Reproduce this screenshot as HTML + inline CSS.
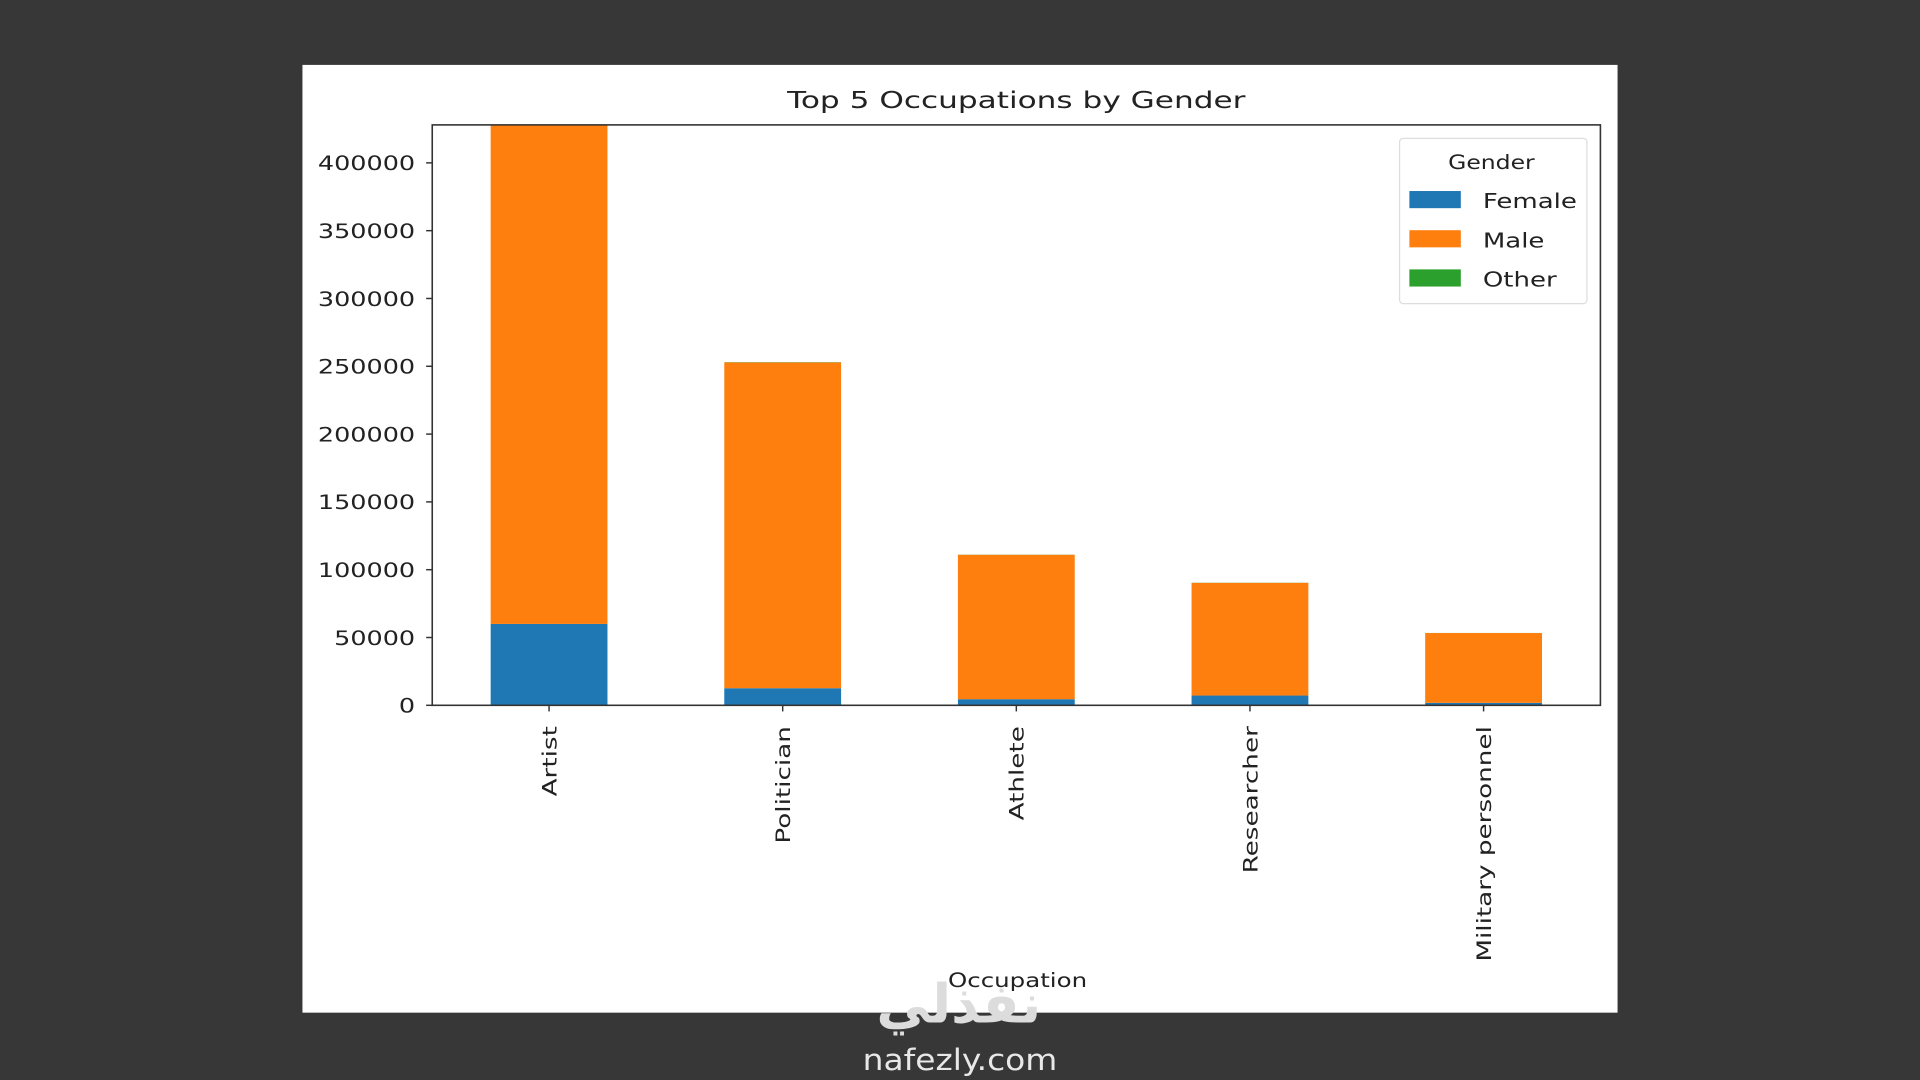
<!DOCTYPE html>
<html><head><meta charset="utf-8"><style>
html,body{margin:0;padding:0;background:#373737;width:1920px;height:1080px;overflow:hidden}
svg{display:block;font-family:"DejaVu Sans","Liberation Sans",sans-serif}
</style></head><body>
<svg id="chart" width="1920" height="1080" viewBox="0 0 1568 882" xmlns="http://www.w3.org/2000/svg">
<rect x="0" y="0" width="1568" height="882" fill="#373737"/>
<rect x="247" y="53" width="1074" height="774" fill="#ffffff"/>
<text class="st" data-f="1.34" x="830" y="88" text-anchor="middle" font-size="19" fill="#222">Top 5 Occupations by Gender</text>
<g id="bars"></g>
<g id="yticks"></g>
<g id="xticks"></g>
<rect x="353" y="102" width="954" height="474" fill="none" stroke="#333" stroke-width="1.3"/>
<text class="st" data-f="1.25" x="831" y="806" text-anchor="middle" font-size="16" fill="#222">Occupation</text>
<g>
<rect x="1143" y="113" width="153" height="135" rx="3" fill="#fff" stroke="#ddd"/>
<text class="st" data-f="1.2" x="1218" y="138" text-anchor="middle" font-size="16" fill="#222">Gender</text>
<g id="legend-entries"></g>
</g>
<text x="783" y="835" text-anchor="middle" font-size="44" font-weight="bold" fill="#dcdcdc" font-family="'Noto Sans CJK SC','DejaVu Sans',sans-serif">نفذلي</text>
<text class="st" data-f="1.12" x="784" y="874" text-anchor="middle" font-size="24" fill="#e8e8e8">nafezly.com</text>
</svg>
<script>
const categories = ["Artist","Politician","Athlete","Researcher","Military personnel"];
const female = [60000, 12600, 4500, 7200, 1800];
const male = [368000, 240200, 106500, 83100, 51500];
const other = [300, 200, 100, 100, 50];
const yTicks = [0,50000,100000,150000,200000,250000,300000,350000,400000];
const seriesNames = ["Female","Male","Other"];
const seriesColors = ["#1f77b4","#ff7f0e","#2ca02c"];

const NS="http://www.w3.org/2000/svg";
const plot={x0:353,x1:1307,y0:576,y1:102};
const yMax=428000;
function yScale(v){return plot.y0-(v/yMax)*(plot.y0-plot.y1);}
function xScale(i){return plot.x0+(i+0.5)*(plot.x1-plot.x0)/categories.length;}
const barW=0.5*(plot.x1-plot.x0)/categories.length;
function mk(tag,attrs,parent){const e=document.createElementNS(NS,tag);for(const k in attrs)e.setAttribute(k,attrs[k]);parent.appendChild(e);return e;}

const bars=document.getElementById('bars');
const series=[female,male,other];
categories.forEach((c,i)=>{
  let base=0;
  series.forEach((s,si)=>{
    const top=Math.min(base+s[i],yMax);
    const b=Math.min(base,yMax);
    const r=mk('rect',{x:xScale(i)-barW/2,y:yScale(top),width:barW,height:Math.max(0,yScale(b)-yScale(top)),fill:seriesColors[si]},bars);
    
    
    base+=s[i];
  });
});

const yg=document.getElementById('yticks');
yTicks.forEach(t=>{
  const y=yScale(t);
  const l=mk('line',{x1:plot.x0-5,x2:plot.x0,y1:y,y2:y,stroke:'#333','stroke-width':1.2},yg);
  
  
  const tx=mk('text',{class:'st','data-f':1.3,x:plot.x0-14,y:y+6,'text-anchor':'end','font-size':16,fill:'#222'},yg);
  tx.textContent=t;
  
  
});

const xg=document.getElementById('xticks');
categories.forEach((c,i)=>{
  const x=xScale(i);
  const l=mk('line',{x1:x,x2:x,y1:plot.y0,y2:plot.y0+5,stroke:'#333','stroke-width':1.2},xg);
  
  
  const tx=mk('text',{class:'st','data-f':1.34,x:x+6,y:plot.y0+17,'text-anchor':'end','font-size':16,fill:'#222',transform:'rotate(-90 '+(x+6)+' '+(plot.y0+17)+')'},xg);
  tx.textContent=c;
  
  
});

const lg=document.getElementById('legend-entries');
seriesNames.forEach((n,i)=>{
  const y=163+i*32;
  const r=mk('rect',{x:1151,y:y-7,width:42,height:14,fill:seriesColors[i]},lg);
  
  
  const t=mk('text',{class:'st','data-f':1.25,x:1211,y:y+7,'font-size':17,fill:'#222'},lg);
  t.textContent=n;
  
  
});

document.querySelectorAll('text.st').forEach(t=>{
  const f=parseFloat(t.getAttribute('data-f'))||1;
  const len=t.getComputedTextLength();
  t.setAttribute('textLength',len*f);
  t.setAttribute('lengthAdjust','spacingAndGlyphs');
});
</script>
</body></html>
